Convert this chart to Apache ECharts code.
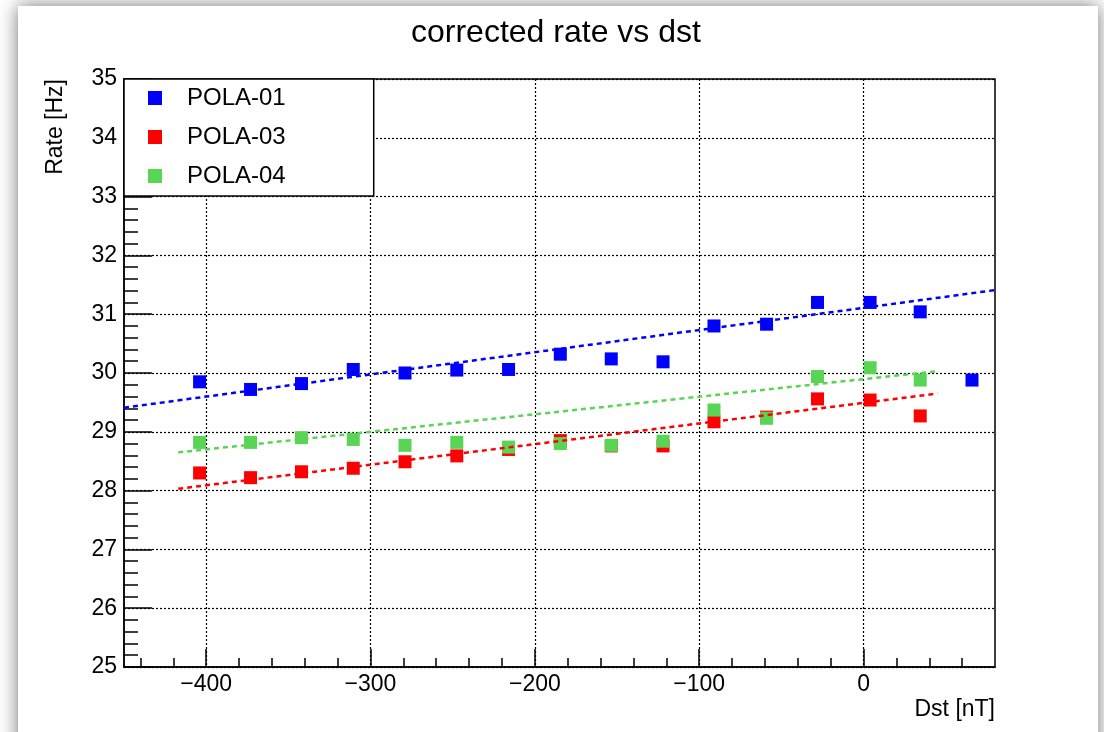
<!DOCTYPE html>
<html>
<head>
<meta charset="utf-8">
<title>corrected rate vs dst</title>
<script src="https://cdn.jsdelivr.net/npm/echarts@6.0.0/dist/echarts.min.js"></script>
<style>
  html, body { margin: 0; padding: 0; background: #fff; overflow: hidden; }
  #canvas { position: absolute; left: 18px; top: 6px; width: 1080px; height: 760px;
            background: #fff; box-shadow: 0 0 18px rgba(0,0,0,0.55); }
  #chart { position: absolute; left: 0; top: 0; width: 1104px; height: 732px; }
</style>
</head>
<body>
<div id="canvas"></div>
<div id="chart"></div>
<script>
// Dst bin centres (nT)
const dst = [-404, -373, -342, -310.5, -279, -247.5, -216, -184.5, -153.5, -122, -91, -59, -28, 4, 34.5, 66];

// corrected rates (Hz)
const pola01 = [29.85, 29.72, 29.82, 30.06, 30.00, 30.05, 30.06, 30.32, 30.24, 30.19, 30.80, 30.83, 31.20, 31.20, 31.04, 29.88];
const pola03 = [28.30, 28.22, 28.32, 28.38, 28.49, 28.59, 28.70, 28.85, 28.76, 28.76, 29.17, 29.25, 29.56, 29.54, 29.27];
const pola04 = [28.82, 28.82, 28.90, 28.87, 28.77, 28.82, 28.74, 28.80, 28.77, 28.84, 29.37, 29.23, 29.94, 30.09, 29.88];

// linear fits, end points [dst, rate]
const fit01 = [[-450, 29.41], [80, 31.41]];
const fit03 = [[-417, 28.03], [45, 29.65]];
const fit04 = [[-417, 28.65], [45, 30.03]];

const xMajor = [-400, -300, -200, -100, 0];
const xMinor = [-440, -420, -380, -360, -340, -320, -280, -260, -240, -220,
                -180, -160, -140, -120, -80, -60, -40, -20, 20, 40, 60];

const FONT = '"Liberation Sans", Arial, Helvetica, sans-serif';
const pts = (ys) => ys.map((y, i) => [dst[i], y]);

const chart = echarts.init(document.getElementById("chart"), null, { renderer: "canvas" });

const dotted = { color: "#000", width: 1.2, type: [2, 2] };

const scatter = (name, color, data) => ({
  name, type: "scatter", symbol: "rect", symbolSize: 13,
  itemStyle: { color, opacity: 1 }, data: pts(data), z: 3,
});
const fitLine = (name, color, data) => ({
  name, type: "line", symbol: "none", silent: true,
  lineStyle: { color, width: 2.5, type: [5, 4] }, data, z: 4,
});

chart.setOption({
  animation: false,
  backgroundColor: "transparent",
  title: {
    text: "corrected rate vs dst",
    left: 411, top: 17, padding: 0,
    textStyle: { fontFamily: FONT, fontSize: 32, fontWeight: "normal", color: "#000" },
  },
  grid: {
    left: 124, right: 109, top: 79, bottom: 65,
    show: true, borderColor: "#000", borderWidth: 1.5, backgroundColor: "transparent",
  },
  legend: {
    data: ["POLA-01", "POLA-03", "POLA-04"],
    orient: "vertical", left: 124, top: 79,
    icon: "rect", itemWidth: 14, itemHeight: 14, itemGap: 15,
    padding: [7, 88, 8, 24],
    borderColor: "#000", borderWidth: 1.5, backgroundColor: "#fff",
    selectedMode: false,
    textStyle: { fontFamily: FONT, fontSize: 24, color: "#000", lineHeight: 24, padding: [0, 0, 0, 20] },
  },
  xAxis: [
    {
      type: "value", min: -450, max: 80, position: "bottom",
      axisLine: { onZero: false, lineStyle: { color: "#000", width: 1.5 } },
      axisTick: { inside: true, length: 18, customValues: xMajor, lineStyle: { color: "#000", width: 1.5 } },
      axisLabel: {
        customValues: xMajor, margin: 6, color: "#000", fontFamily: FONT, fontSize: 23,
        formatter: (v) => String(v).replace("-", "\u2212"),
      },
      splitLine: { show: true, lineStyle: dotted },
    },
    {
      type: "value", min: -450, max: 80, position: "bottom", offset: 0,
      axisLine: { show: false, onZero: false },
      axisTick: { inside: true, length: 9, customValues: xMinor, lineStyle: { color: "#000", width: 1.5 } },
      axisLabel: { show: false },
      splitLine: { show: false },
    },
  ],
  yAxis: {
    type: "value", min: 25, max: 35, interval: 1, position: "left",
    axisLine: { show: true, onZero: false, lineStyle: { color: "#000", width: 1.5 } },
    axisTick: { inside: true, length: 28, lineStyle: { color: "#000", width: 1.5 } },
    minorTick: { show: true, splitNumber: 5, length: 14, lineStyle: { color: "#000", width: 1.5 } },
    axisLabel: { margin: 7, color: "#000", fontFamily: FONT, fontSize: 23 },
    splitLine: { show: true, lineStyle: dotted },
  },
  graphic: [
    {
      type: "text", x: 995, y: 710,
      style: {
        text: "Dst [nT]", font: `23px ${FONT}`, fill: "#000",
        align: "right", verticalAlign: "middle", textAlign: "right", textVerticalAlign: "middle",
      },
    },
    {
      type: "text", x: 56, y: 79, rotation: Math.PI / 2,
      style: {
        text: "Rate [Hz]", font: `23px ${FONT}`, fill: "#000",
        align: "right", verticalAlign: "middle", textAlign: "right", textVerticalAlign: "middle",
      },
    },
  ],
  series: [
    scatter("POLA-01", "#0000ff", pola01),
    scatter("POLA-03", "#ff0000", pola03),
    scatter("POLA-04", "#59d454", pola04),
    fitLine("fit-01", "#0000ff", fit01),
    fitLine("fit-03", "#ff0000", fit03),
    fitLine("fit-04", "#59d454", fit04),
  ],
});

window.addEventListener("resize", () => chart.resize());
</script>
</body>
</html>
